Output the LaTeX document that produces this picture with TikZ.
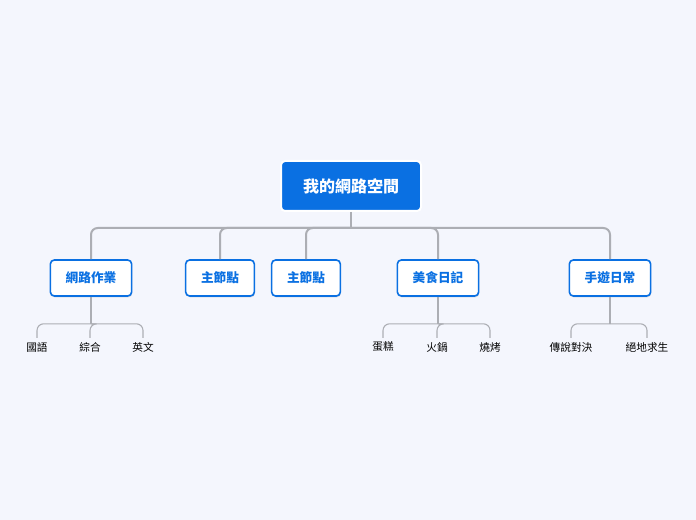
\documentclass[tikz,border=0pt]{standalone}
\usepackage{fontspec}
\usepackage{xcolor}
\usepackage{tikz}
\usetikzlibrary{positioning, shadows}
\setmainfont{Noto Sans CJK TC}

\definecolor{bgpage}{RGB}{244,246,253}
\definecolor{mapblue}{RGB}{10,112,226}
\definecolor{branchgray}{RGB}{172,174,180}

\begin{document}
\begin{tikzpicture}[
  x=0.75pt, y=-0.75pt,
  align=center,
  root/.style={rectangle, rounded corners=3pt, draw=white, line width=1.5pt,
               fill=mapblue, text=white, font=\bfseries\fontsize{12}{14}\selectfont,
               minimum height=37.5pt, inner xsep=16.5pt},
  topic/.style={rectangle, rounded corners=3pt, draw=mapblue, line width=1.2pt,
                fill=white, text=mapblue, font=\bfseries\fontsize{9.5}{11}\selectfont,
                minimum height=27pt, inner xsep=11.5pt,
                drop shadow={shadow xshift=0.4pt, shadow yshift=-1pt, fill=black!35, opacity=0.4}},
  leaf/.style={font=\fontsize{8}{10}\selectfont, text=black, inner sep=3pt},
  branch/.style={draw=branchgray, line width=1.5pt, rounded corners=5pt},
  twig/.style={draw=branchgray, line width=0.8pt, rounded corners=5pt},
]

% page
\fill[bgpage] (0,0) rectangle (696,520);
\useasboundingbox (0,0) rectangle (696,520);

% Central topic
\node[root] (root) at (351,186) {我的網路空間};

% Main topics
\node[topic] (work)  at (91,278)  {網路作業};
\node[topic] (mainA) at (220,278) {主節點};
\node[topic] (mainB) at (306,278) {主節點};
\node[topic] (food)  at (438,278) {美食日記};
\node[topic] (game)  at (610,278) {手遊日常};

% Subtopics
\node[leaf] (chinese) at (37,347)  {國語};
\node[leaf] (mixed)   at (90,347)  {綜合};
\node[leaf] (english) at (143,347) {英文};

\node[leaf] (cake)  at (383,347) {蛋糕};
\node[leaf] (pot)   at (437,347) {火鍋};
\node[leaf] (bbq)   at (490,347) {燒烤};

\node[leaf] (aov)  at (571,347) {傳說對決};
\node[leaf] (pubg) at (647,347) {絕地求生};

% Branches
\draw[branch] (root.south) -- ++(0,16) coordinate (rootjoin);
\foreach \t in {work, mainA, mainB, food, game}
  \draw[branch] (rootjoin) -| (\t.north);

\draw[twig] (work.south) -- ++(0,27) coordinate (workjoin);
\foreach \l in {chinese, mixed, english}
  \draw[twig] (workjoin) -| (\l.north);
\draw[twig] (food.south) -- ++(0,27) coordinate (foodjoin);
\foreach \l in {cake, pot, bbq}
  \draw[twig] (foodjoin) -| (\l.north);
\draw[twig] (game.south) -- ++(0,27) coordinate (gamejoin);
\foreach \l in {aov, pubg}
  \draw[twig] (gamejoin) -| (\l.north);

\end{tikzpicture}
\end{document}
